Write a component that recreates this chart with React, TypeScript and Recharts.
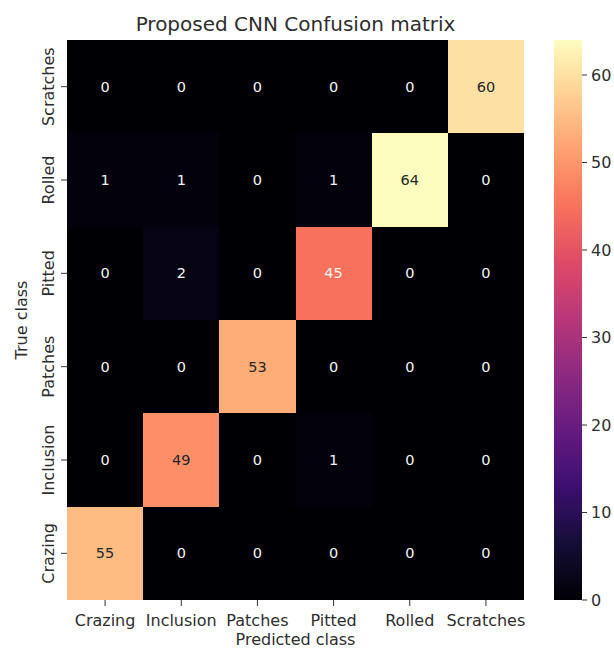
import React from 'react';
import { ScatterChart, Scatter, XAxis, YAxis, ReferenceArea } from 'recharts';

// Categories (predicted = columns, true = rows; Crazing is the bottom row)
const classes = ['Crazing', 'Inclusion', 'Patches', 'Pitted', 'Rolled', 'Scratches'];

// Rows of the confusion matrix (true class), values per predicted class
const crazingRow = [55, 0, 0, 0, 0, 0];
const inclusionRow = [0, 49, 0, 1, 0, 0];
const patchesRow = [0, 0, 53, 0, 0, 0];
const pittedRow = [0, 2, 0, 45, 0, 0];
const rolledRow = [1, 1, 0, 1, 64, 0];
const scratchesRow = [0, 0, 0, 0, 0, 60];

const colorbarTicks = [0, 10, 20, 30, 40, 50, 60];
const classTicks = [0, 1, 2, 3, 4, 5];

const matrix = [crazingRow, inclusionRow, patchesRow, pittedRow, rolledRow, scratchesRow];
const vmin = 0;
const vmax = Math.max(...matrix.flat());

// magma colormap stops
const MAGMA = ['#000004', '#140e36', '#3b0f70', '#641a80', '#8c2981', '#b73779', '#de4968', '#f7705c', '#fe9f6d', '#fecf92', '#fcfdbf'];

function hexToRgb(h: string): number[] {
  return [parseInt(h.slice(1, 3), 16), parseInt(h.slice(3, 5), 16), parseInt(h.slice(5, 7), 16)];
}
function magma(t: number): string {
  const tt = Math.max(0, Math.min(1, t));
  const pos = tt * (MAGMA.length - 1);
  const i = Math.min(Math.floor(pos), MAGMA.length - 2);
  const f = pos - i;
  const a = hexToRgb(MAGMA[i]);
  const b = hexToRgb(MAGMA[i + 1]);
  const c = a.map((v, k) => Math.round(v + (b[k] - v) * f));
  return `rgb(${c[0]},${c[1]},${c[2]})`;
}
function luminance(rgb: string): number {
  const m = rgb.match(/\d+/g)!.map(Number).map((v) => {
    const s = v / 255;
    return s <= 0.03928 ? s / 12.92 : Math.pow((s + 0.055) / 1.055, 2.4);
  });
  return 0.2126 * m[0] + 0.7152 * m[1] + 0.0722 * m[2];
}

const cells = matrix.flatMap((row, i) =>
  row.map((v, j) => {
    const fill = magma((v - vmin) / (vmax - vmin));
    return { x: j, y: i, v, fill, text: luminance(fill) > 0.408 ? '#262626' : '#f4f4f4' };
  })
);

const FONT = '"DejaVu Sans", sans-serif';
const TEXT = '#2e2e2e';

const XTick = (props: any) => {
  const { x, y, payload } = props;
  return (
    <text x={x} y={y + 18} textAnchor="middle" fontSize={16} fontFamily={FONT} fill={TEXT}>
      {classes[payload.value]}
    </text>
  );
};

const YTick = (props: any) => {
  const { x, y, payload } = props;
  const bx = x - 5;
  return (
    <text x={bx} y={y} transform={`rotate(-90, ${bx}, ${y})`} textAnchor="middle" fontSize={16} fontFamily={FONT} fill={TEXT}>
      {classes[payload.value]}
    </text>
  );
};

const CbTick = (props: any) => {
  const { x, y, payload } = props;
  return (
    <text x={x + 2} y={y} textAnchor="start" dominantBaseline="central" fontSize={16} fontFamily={FONT} fill={TEXT}>
      {payload.value}
    </text>
  );
};

const Annot = (props: any) => {
  const { cx, cy, payload } = props;
  return (
    <text x={cx} y={cy} textAnchor="middle" dominantBaseline="central" fontSize={14.5} fontFamily={FONT} fill={payload.text}>
      {payload.v}
    </text>
  );
};

export default function App() {
  return (
    <div style={{ position: 'absolute', left: 0, top: 0, width: 614, height: 650, background: '#fff' }}>
      <div style={{ position: 'absolute', left: 0, top: 0 }}>
        <ScatterChart width={614} height={650} margin={{ top: 40, right: 90, bottom: 0, left: 0 }}>
          <XAxis
            type="number"
            dataKey="x"
            domain={[-0.5, 5.5]}
            ticks={classTicks}
            interval={0}
            axisLine={false}
            tickLine={{ stroke: '#333' }}
            tickSize={6}
            height={50}
            tick={<XTick />}
            allowDataOverflow
          />
          <YAxis
            type="number"
            dataKey="y"
            domain={[-0.5, 5.5]}
            ticks={classTicks}
            interval={0}
            axisLine={false}
            tickLine={{ stroke: '#333' }}
            tickSize={6}
            width={67}
            tick={<YTick />}
            allowDataOverflow
          />
          {cells.map((c) => (
            <ReferenceArea
              key={`${c.x}-${c.y}`}
              x1={c.x - 0.5}
              x2={c.x + 0.5}
              y1={c.y - 0.5}
              y2={c.y + 0.5}
              fill={c.fill}
              fillOpacity={1}
              stroke="none"
              shapeRendering="crispEdges"
              ifOverflow="visible"
            />
          ))}
          <Scatter data={cells} isAnimationActive={false} shape={Annot} />
        </ScatterChart>
      </div>
      <div style={{ position: 'absolute', left: 544, top: 0 }}>
        <ScatterChart width={70} height={650} margin={{ top: 40, right: 0, bottom: 50, left: 10 }}>
          <defs>
            <linearGradient id="magmaGrad" x1="0" y1="1" x2="0" y2="0">
              {MAGMA.map((c, i) => (
                <stop key={i} offset={`${(i / (MAGMA.length - 1)) * 100}%`} stopColor={c} />
              ))}
            </linearGradient>
          </defs>
          <XAxis type="number" dataKey="x" domain={[0, 1]} hide />
          <YAxis
            type="number"
            dataKey="y"
            orientation="right"
            domain={[vmin, vmax]}
            ticks={colorbarTicks}
            interval={0}
            axisLine={false}
            tickLine={{ stroke: '#333' }}
            tickSize={5}
            width={32}
            tick={<CbTick />}
          />
          <ReferenceArea x1={0} x2={1} y1={vmin} y2={vmax} fill="url(#magmaGrad)" fillOpacity={1} stroke="none" ifOverflow="visible" />
          <Scatter data={colorbarTicks.map((v) => ({ x: 0.5, y: v }))} isAnimationActive={false} shape={() => <g />} />
        </ScatterChart>
      </div>
      <svg width={614} height={650} style={{ position: 'absolute', left: 0, top: 0, pointerEvents: 'none' }}>
        <text x={295.5} y={31} textAnchor="middle" fontSize={20} fontFamily={FONT} fill={TEXT}>
          Proposed CNN Confusion matrix
        </text>
        <text x={295.5} y={645} textAnchor="middle" fontSize={16} fontFamily={FONT} fill={TEXT}>
          Predicted class
        </text>
        <text x={27} y={320} transform="rotate(-90, 27, 320)" textAnchor="middle" fontSize={16} fontFamily={FONT} fill={TEXT}>
          True class
        </text>
      </svg>
    </div>
  );
}
